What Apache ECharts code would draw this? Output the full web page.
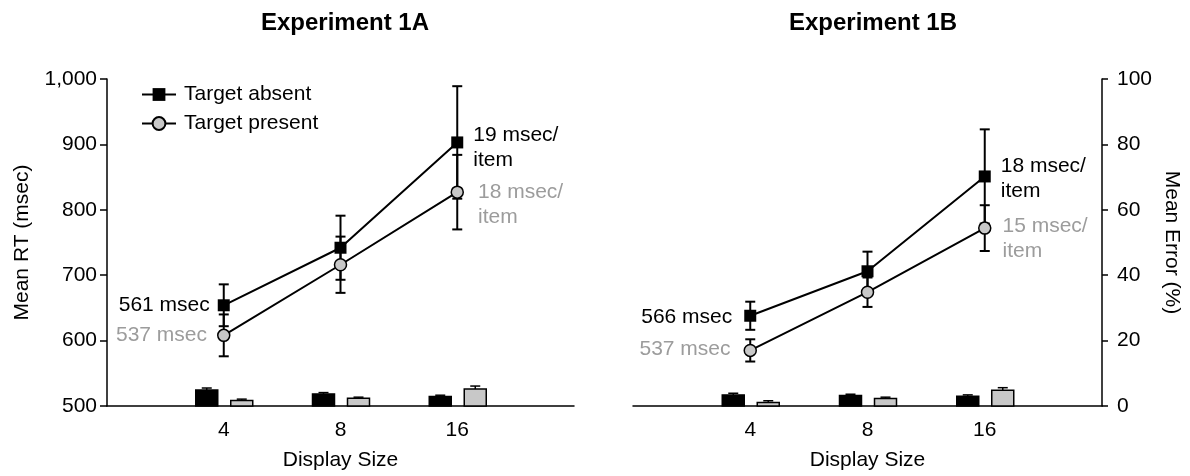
<!DOCTYPE html>
<html>
<head>
<meta charset="utf-8">
<script src="https://cdn.jsdelivr.net/npm/echarts@6/dist/echarts.min.js"></script>
<style>html,body{margin:0;padding:0;background:#fff}#c{width:1190px;height:476px}</style>
</head>
<body>
<div id="c"></div>
<script>
// ---- data ----
const categories = ['4', '8', '16'];
const panelTitles = ['Experiment 1A', 'Experiment 1B'];
const seriesNames = ['Target absent', 'Target present'];
const rtTicks = [500, 600, 700, 800, 900, 1000];
const errTicks = [0, 20, 40, 60, 80, 100];

// Experiment 1A (mean RT, msec) and SE
const rtAbsentA = [654, 742, 903];
const rtAbsentSeA = [32, 49, 86];
const rtPresentA = [608, 716, 827];
const rtPresentSeA = [32, 43, 57];
// Experiment 1A (mean error, %) and SE
const errAbsentA = [4.9, 3.7, 2.9];
const errAbsentSeA = [0.6, 0.4, 0.4];
const errPresentA = [1.7, 2.4, 5.2];
const errPresentSeA = [0.4, 0.3, 0.9];

// Experiment 1B
const rtAbsentB = [638, 706, 851];
const rtAbsentSeB = [21.5, 30, 72];
const rtPresentB = [585, 674, 772];
const rtPresentSeB = [17, 22.5, 35];
const errAbsentB = [3.4, 3.2, 3.0];
const errAbsentSeB = [0.5, 0.4, 0.4];
const errPresentB = [1.1, 2.3, 4.8];
const errPresentSeB = [0.5, 0.4, 0.8];

// annotations
const interceptLabelsA = ['561 msec', '537 msec'];
const slopeLabelsA = ['19 msec/\nitem', '18 msec/\nitem'];
const interceptLabelsB = ['566 msec', '537 msec'];
const slopeLabelsB = ['18 msec/\nitem', '15 msec/\nitem'];

// ---- styles ----
const FONT = 'Liberation Sans, Arial, Helvetica, sans-serif';
const FS = 21;
const GRAY_TEXT = '#9c9c9c';
const GRAY_FILL = '#c8c8c8';

function pts(vals) { return vals.map((v, i) => [i + 1, v]); }
function errPts(vals, se) { return vals.map((v, i) => [i + 1, v, se[i]]); }

function errorBarSeries(xi, yi, data) {
  return {
    type: 'custom', xAxisIndex: xi, yAxisIndex: yi, z: 3, silent: true,
    renderItem: function (params, api) {
      const x = api.value(0), y = api.value(1), e = api.value(2);
      const top = api.coord([x, y + e]);
      const bot = api.coord([x, y - e]);
      const hw = 5;
      const st = { stroke: '#000', lineWidth: 2 };
      return { type: 'group', children: [
        { type: 'line', shape: { x1: top[0], y1: top[1], x2: bot[0], y2: bot[1] }, style: st },
        { type: 'line', shape: { x1: top[0] - hw, y1: top[1], x2: top[0] + hw, y2: top[1] }, style: st },
        { type: 'line', shape: { x1: bot[0] - hw, y1: bot[1], x2: bot[0] + hw, y2: bot[1] }, style: st }
      ]};
    },
    data: data
  };
}

function barSeries(xi, yi, data, offset, fill) {
  return {
    type: 'custom', xAxisIndex: xi, yAxisIndex: yi, z: 2, silent: true,
    renderItem: function (params, api) {
      const x = api.value(0), v = api.value(1), e = api.value(2);
      const p = api.coord([x, v]);
      const b = api.coord([x, 0]);
      const t = api.coord([x, v + e]);
      const cx = p[0] + offset;
      const w = 22, hw = 5;
      const st = { stroke: '#000', lineWidth: 1.5 };
      return { type: 'group', children: [
        { type: 'line', shape: { x1: cx, y1: p[1], x2: cx, y2: t[1] }, style: st },
        { type: 'line', shape: { x1: cx - hw, y1: t[1], x2: cx + hw, y2: t[1] }, style: st },
        { type: 'rect', shape: { x: cx - w / 2, y: p[1], width: w, height: b[1] - p[1] },
          style: { fill: fill, stroke: '#000', lineWidth: 1.5 } }
      ]};
    },
    data: data
  };
}

function lineSeries(name, xi, yi, vals, isAbsent, firstLabel, lastLabel, firstCfg, lastCfg) {
  const color = isAbsent ? '#000' : GRAY_TEXT;
  const data = pts(vals).map((d, i) => {
    const item = { value: d };
    if (i === 0) {
      item.label = { show: true, position: 'left', distance: firstCfg.dist, offset: [0, firstCfg.dy],
        formatter: firstLabel, color: color, fontSize: FS, fontFamily: FONT };
    } else if (i === vals.length - 1) {
      item.label = { show: true, position: 'right', distance: lastCfg.dist, offset: [0, lastCfg.dy],
        formatter: lastLabel, color: color, fontSize: FS, fontFamily: FONT, lineHeight: 25, align: 'left' };
    }
    return item;
  });
  return {
    name: name, type: 'line', xAxisIndex: xi, yAxisIndex: yi, z: 5,
    symbol: isAbsent ? 'rect' : 'circle',
    symbolSize: isAbsent ? 12 : 12,
    itemStyle: isAbsent ? { color: '#000', borderColor: '#000', borderWidth: 0 }
                        : { color: GRAY_FILL, borderColor: '#000', borderWidth: 1.5 },
    lineStyle: { color: '#000', width: 2 },
    label: { show: false },
    data: data
  };
}

const xLabelFmt = v => (v >= 1 && v <= categories.length) ? categories[v - 1] : '';

function xAxis(gi) {
  return {
    type: 'value', gridIndex: gi, min: 0, max: 4, interval: 1,
    axisLine: { show: true, lineStyle: { color: '#000', width: 1.5 } },
    axisTick: { show: false }, splitLine: { show: false },
    axisLabel: { formatter: xLabelFmt, color: '#000', fontSize: FS, fontFamily: FONT, margin: 14 },
    name: 'Display Size', nameLocation: 'middle', nameGap: 44,
    nameTextStyle: { color: '#000', fontSize: FS, fontFamily: FONT }
  };
}

const chart = echarts.init(document.getElementById('c'));
chart.setOption({
  animation: false,
  backgroundColor: '#fff',
  title: [
    { text: panelTitles[0], left: 340, top: 6, textAlign: 'center',
      textStyle: { fontSize: 24, fontWeight: 'bold', fontFamily: FONT, color: '#000' } },
    { text: panelTitles[1], left: 868, top: 6, textAlign: 'center',
      textStyle: { fontSize: 24, fontWeight: 'bold', fontFamily: FONT, color: '#000' } }
  ],
  legend: {
    data: seriesNames, orient: 'vertical', left: 141, top: 84,
    itemWidth: 34, itemHeight: 16, itemGap: 8, padding: 0,
    textStyle: { fontSize: FS, fontFamily: FONT, color: '#000', padding: [0, 0, 0, 3] }
  },
  grid: [
    { left: 107, right: 616, top: 79, bottom: 69 },
    { left: 633, right: 88, top: 79, bottom: 69 }
  ],
  xAxis: [xAxis(0), xAxis(1)],
  yAxis: [
    { type: 'value', gridIndex: 0, min: rtTicks[0], max: rtTicks[rtTicks.length - 1], interval: 100,
      axisLine: { show: true, lineStyle: { color: '#000', width: 1.5 } },
      axisTick: { show: true, length: 7, lineStyle: { color: '#000', width: 1.5 } },
      splitLine: { show: false },
      axisLabel: { color: '#000', fontSize: FS, fontFamily: FONT, margin: 10,
        formatter: v => v.toLocaleString('en-US') },
      name: 'Mean RT (msec)', nameLocation: 'middle', nameGap: 74,
      nameTextStyle: { color: '#000', fontSize: FS, fontFamily: FONT } },
    { type: 'value', gridIndex: 0, min: errTicks[0], max: errTicks[errTicks.length - 1], show: false },
    { type: 'value', gridIndex: 1, min: rtTicks[0], max: rtTicks[rtTicks.length - 1], show: false },
    { type: 'value', gridIndex: 1, position: 'right', min: errTicks[0], max: errTicks[errTicks.length - 1], interval: 20,
      axisLine: { show: true, lineStyle: { color: '#000', width: 1.5 } },
      axisTick: { show: true, length: 6, lineStyle: { color: '#000', width: 1.5 } },
      splitLine: { show: false },
      axisLabel: { color: '#000', fontSize: FS, fontFamily: FONT, margin: 15 },
      name: 'Mean Error (%)', nameLocation: 'middle', nameGap: 59, nameRotate: -90,
      nameTextStyle: { color: '#000', fontSize: FS, fontFamily: FONT } }
  ],
  series: [
    // Experiment 1A
    barSeries(0, 1, errPts(errAbsentA, errAbsentSeA), -17, '#000'),
    barSeries(0, 1, errPts(errPresentA, errPresentSeA), 18, GRAY_FILL),
    errorBarSeries(0, 0, errPts(rtAbsentA, rtAbsentSeA)),
    errorBarSeries(0, 0, errPts(rtPresentA, rtPresentSeA)),
    lineSeries(seriesNames[0], 0, 0, rtAbsentA, true, interceptLabelsA[0], slopeLabelsA[0],
      { dist: 8, dy: 0 }, { dist: 10, dy: 5 }),
    lineSeries(seriesNames[1], 0, 0, rtPresentA, false, interceptLabelsA[1], slopeLabelsA[1],
      { dist: 10, dy: 0 }, { dist: 14, dy: 13 }),
    // Experiment 1B
    barSeries(1, 3, errPts(errAbsentB, errAbsentSeB), -17, '#000'),
    barSeries(1, 3, errPts(errPresentB, errPresentSeB), 18, GRAY_FILL),
    errorBarSeries(1, 2, errPts(rtAbsentB, rtAbsentSeB)),
    errorBarSeries(1, 2, errPts(rtPresentB, rtPresentSeB)),
    lineSeries(seriesNames[0], 1, 2, rtAbsentB, true, interceptLabelsB[0], slopeLabelsB[0],
      { dist: 12, dy: 1 }, { dist: 10, dy: 2 }),
    lineSeries(seriesNames[1], 1, 2, rtPresentB, false, interceptLabelsB[1], slopeLabelsB[1],
      { dist: 13, dy: -1 }, { dist: 11, dy: 11 })
  ]
});
</script>
</body>
</html>
